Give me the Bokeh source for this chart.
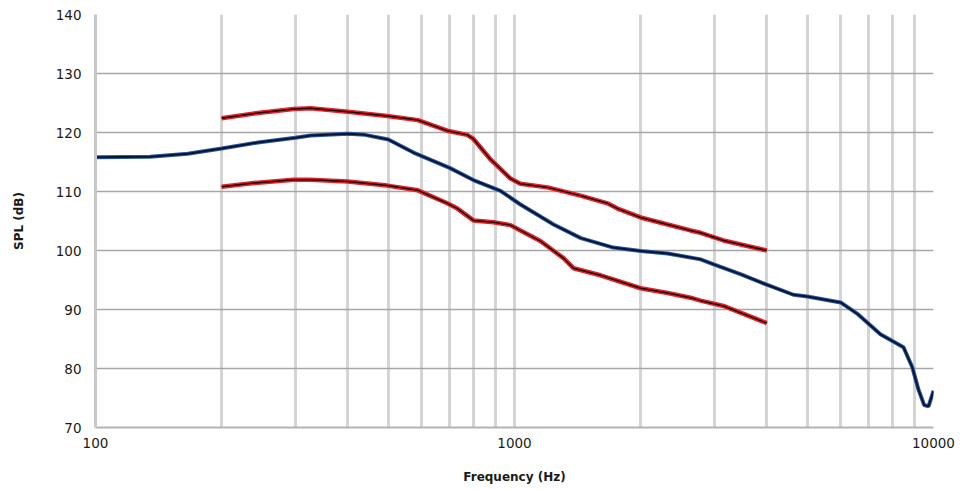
from bokeh.plotting import figure
from bokeh.models import FixedTicker, Range1d
from bokeh.embed import file_html
from bokeh.resources import INLINE

# Middle (blue) curve
mid_freq = [100, 135, 166, 200, 244, 300, 326, 400, 440, 500, 574, 700, 800, 926,
            1033, 1240, 1440, 1720, 2000, 2320, 2780, 3000, 3460, 4000, 4630, 5000,
            6000, 6600, 7470, 8000, 8480, 8900, 9200, 9500, 9730, 10000]
mid_spl = [115.8, 115.9, 116.4, 117.3, 118.3, 119.1, 119.5, 119.8, 119.6, 118.8, 116.6,
           114.0, 111.9, 110.1, 107.8, 104.4, 102.1, 100.5, 99.9, 99.5, 98.5, 97.6, 96.0,
           94.2, 92.5, 92.2, 91.2, 89.2, 85.8, 84.6, 83.6, 80.2, 76.5, 73.8, 73.6, 76.2]

# Upper (red) curve
up_freq = [200, 244, 297, 326, 400, 497, 588, 691, 771, 798, 875, 978, 1033, 1199,
           1437, 1667, 1762, 2000, 2320, 2630, 2780, 3153, 4000]
up_spl = [122.4, 123.3, 124.0, 124.1, 123.5, 122.8, 122.1, 120.3, 119.6, 118.9, 115.5,
          112.2, 111.3, 110.7, 109.3, 108.0, 107.1, 105.6, 104.4, 103.4, 103.0, 101.7, 100.0]

# Lower (red) curve
lo_freq = [200, 244, 297, 326, 400, 497, 588, 691, 731, 798, 891, 978, 1033, 1153,
           1309, 1383, 1604, 2000, 2320, 2630, 2780, 3153, 4000]
lo_spl = [110.8, 111.5, 112.0, 112.0, 111.7, 111.0, 110.2, 108.0, 107.1, 105.1, 104.8,
          104.3, 103.4, 101.6, 98.7, 97.0, 95.8, 93.6, 92.8, 92.0, 91.5, 90.6, 87.7]

x_labels = [100, 1000, 10000]
y_ticks = [70, 80, 90, 100, 110, 120, 130, 140]
grid_freqs = [m * d for d in (100, 1000) for m in range(1, 10)] + [10000]

p = figure(width=956, height=486, x_axis_type="log",
           x_range=Range1d(100, 10000), y_range=Range1d(70, 140),
           output_backend="svg", toolbar_location=None,
           min_border_left=95, min_border_right=23, min_border_top=14, min_border_bottom=53)
p.outline_line_color = None
p.background_fill_color = "white"

p.xaxis.ticker = FixedTicker(ticks=x_labels)
p.yaxis.ticker = FixedTicker(ticks=y_ticks)
p.xgrid.ticker = FixedTicker(ticks=grid_freqs)
p.xaxis.major_label_overrides = {v: str(v) for v in x_labels}
p.xgrid.grid_line_color = "#d4d4d4"
p.xgrid.grid_line_width = 3
p.ygrid.grid_line_color = "#a6a6a6"
p.ygrid.grid_line_width = 1.5

for ax in (p.xaxis[0], p.yaxis[0]):
    ax.major_tick_line_color = None
    ax.minor_tick_line_color = None
    ax.major_label_text_font = "DejaVu Sans"
    ax.major_label_text_font_size = "13.5px"
    ax.major_label_text_color = "#1a1a1a"
    ax.axis_label_text_font = "DejaVu Sans"
    ax.axis_label_text_font_size = "12px"
    ax.axis_label_text_font_style = "bold"
    ax.axis_label_text_color = "#1a1a1a"

p.yaxis.axis_line_color = "#c8c8c8"
p.yaxis.axis_line_width = 3
p.xaxis.axis_line_color = "#b4b4b4"
p.xaxis.axis_line_width = 2
p.yaxis.major_label_standoff = 8
p.xaxis.major_label_standoff = 4
p.yaxis.axis_label = "SPL (dB)"
p.xaxis.axis_label = "Frequency (Hz)"
p.yaxis.axis_label_standoff = 27
p.xaxis.axis_label_standoff = 19

# red curves: red halo with dark core
for fx, fy in ((up_freq, up_spl), (lo_freq, lo_spl)):
    p.line(fx, fy, line_color="#e8202a", line_width=4.5)
    p.line(fx, fy, line_color="#200000", line_width=1.5)

# blue curve: blue halo with navy core
p.line(mid_freq, mid_spl, line_color="#2b5aa8", line_width=4)
p.line(mid_freq, mid_spl, line_color="#0a1430", line_width=2)

open("out.html", "w").write(file_html(p, INLINE))
